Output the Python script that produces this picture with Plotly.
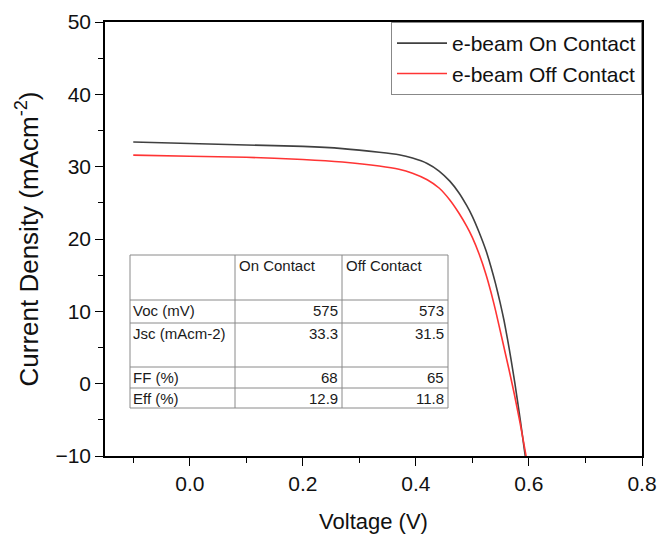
import plotly.graph_objects as go

# ---- data ----
V_on = [-0.10, 0.00, 0.10, 0.20, 0.27, 0.335, 0.37, 0.394, 0.42, 0.441, 0.46, 0.476, 0.49, 0.50, 0.512, 0.524, 0.533, 0.541, 0.549, 0.556, 0.562, 0.568, 0.575, 0.585, 0.592, 0.598]
J_on = [33.4, 33.2, 33.0, 32.8, 32.5, 32.0, 31.65, 31.2, 30.45, 29.4, 28.0, 26.4, 24.6, 23.1, 20.9, 18.4, 16.1, 13.8, 11.2, 8.7, 6.2, 3.5, 0.1, -5.2, -9.2, -12.5]
V_off = [-0.10, 0.00, 0.10, 0.20, 0.27, 0.335, 0.37, 0.394, 0.42, 0.441, 0.46, 0.476, 0.49, 0.50, 0.512, 0.524, 0.533, 0.541, 0.553, 0.565, 0.574, 0.584, 0.594, 0.600]
J_off = [31.6, 31.45, 31.3, 31.0, 30.65, 30.1, 29.65, 29.1, 28.2, 27.05, 25.4, 23.6, 21.75, 20.2, 17.9, 15.1, 12.6, 10.1, 6.0, 1.85, -1.4, -5.3, -9.6, -12.2]

series_names = ["e-beam On Contact", "e-beam Off Contact"]

table_header = ["", "On Contact", "Off Contact"]
table_rows = ["Voc (mV)", "Jsc (mAcm-2)", "FF (%)", "Eff (%)"]
table_on = ["575", "33.3", "68", "12.9"]
table_off = ["573", "31.5", "65", "11.8"]

x_ticks = [0.0, 0.2, 0.4, 0.6, 0.8]
y_ticks = [-10, 0, 10, 20, 30, 40, 50]

# ---- layout geometry (pixels) ----
W, H = 661, 540
L, R, T, B = 105, 19, 22, 84
PW, PH = W - L - R, H - T - B

def px(x):
    return (x - L) / PW

def py(y):
    return (H - B - y) / PH

FONT = "Arial, 'Liberation Sans', sans-serif"

fig = go.Figure()
fig.add_trace(go.Scatter(x=V_on, y=J_on, mode="lines", name=series_names[0],
                         line=dict(color="#404040", width=1.6, shape="spline", smoothing=0.5)))
fig.add_trace(go.Scatter(x=V_off, y=J_off, mode="lines", name=series_names[1],
                         line=dict(color="#ff3434", width=1.6, shape="spline", smoothing=0.5)))

# ---- inset table ----
col_x = [130, 235, 342, 448]
row_y = [255, 300, 323, 367, 388, 408]
gcol = "#8a8a8a"
shapes = []
for cx in col_x:
    shapes.append(dict(type="line", xref="paper", yref="paper", x0=px(cx), x1=px(cx),
                       y0=py(row_y[0]), y1=py(row_y[-1]), line=dict(color=gcol, width=1)))
for ry in row_y:
    shapes.append(dict(type="line", xref="paper", yref="paper", x0=px(col_x[0]), x1=px(col_x[-1]),
                       y0=py(ry), y1=py(ry), line=dict(color=gcol, width=1)))

annots = []
tfont = dict(family=FONT, size=15, color="#1a1a1a")
for i, htxt in enumerate(table_header):
    if htxt:
        annots.append(dict(text=htxt, xref="paper", yref="paper", x=px(col_x[i] + 2), y=py(row_y[0]),
                           xanchor="left", yanchor="top", showarrow=False, font=tfont))
for r, lab in enumerate(table_rows):
    ytop = py(row_y[r + 1])
    annots.append(dict(text=lab, xref="paper", yref="paper", x=px(col_x[0] + 1), y=ytop,
                       xanchor="left", yanchor="top", showarrow=False, font=tfont))
    annots.append(dict(text=table_on[r], xref="paper", yref="paper", x=px(col_x[2] - 2), y=ytop,
                       xanchor="right", yanchor="top", showarrow=False, font=tfont))
    annots.append(dict(text=table_off[r], xref="paper", yref="paper", x=px(col_x[3] - 2), y=ytop,
                       xanchor="right", yanchor="top", showarrow=False, font=tfont))

axis_common = dict(showline=True, linecolor="black", linewidth=1.6, mirror=True,
                   ticks="outside", ticklen=8, tickwidth=1.3, tickcolor="black",
                   showgrid=False, zeroline=False, automargin=False,
                   tickfont=dict(family=FONT, size=21, color="#111"))

fig.update_layout(
    width=W, height=H, autosize=False,
    margin=dict(l=L, r=R, t=T, b=B, pad=0),
    paper_bgcolor="white", plot_bgcolor="white",
    font=dict(family=FONT, color="#111"),
    xaxis=dict(range=[-0.15, 0.8], tickvals=x_ticks, tickformat=".1f",
               minor=dict(dtick=0.1, tick0=0, ticks="outside", ticklen=5, tickcolor="black", tickwidth=1.2),
               title=dict(text="Voltage (V)", font=dict(family=FONT, size=22), standoff=20),
               **axis_common),
    yaxis=dict(range=[-10, 50], tickvals=y_ticks,
               minor=dict(dtick=5, tick0=0, ticks="outside", ticklen=5, tickcolor="black", tickwidth=1.2),
               title=dict(text="Current Density (mAcm<sup>-2</sup>)", font=dict(family=FONT, size=26), standoff=9),
               **axis_common),
    legend=dict(x=1, y=1, xanchor="right", yanchor="top", bgcolor="white",
                bordercolor="#888", borderwidth=1, itemwidth=50,
                font=dict(family=FONT, size=21, color="#111"),
                tracegroupgap=0),
    shapes=shapes,
    annotations=annots,
    showlegend=True,
)

fig.write_html("out.html")
